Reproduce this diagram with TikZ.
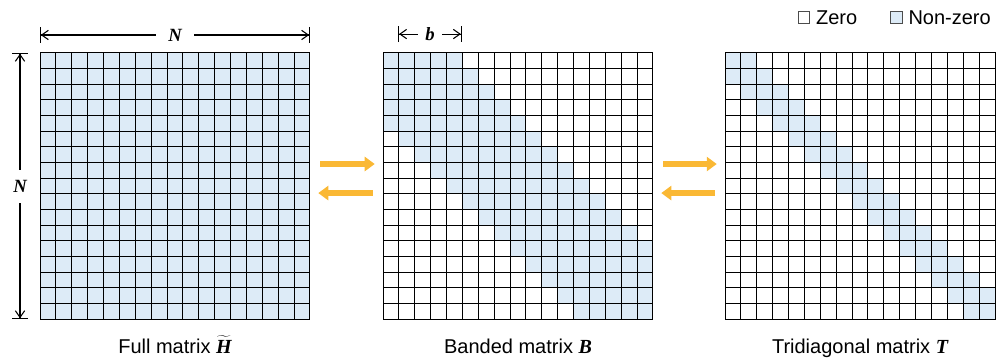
\documentclass[tikz,border=0pt]{standalone}
\usepackage{fontspec}
\setmainfont{Liberation Sans}
\newfontfamily\tms{Liberation Serif}
\usetikzlibrary{arrows.meta,positioning}

\definecolor{nzblue}{RGB}{221,235,247}
\definecolor{flowor}{RGB}{250,184,52}

\tikzset{
  cella/.style={line width=0.75pt, draw=black, line cap=rect},
  nonzero/.style={fill=nzblue},
  matbox/.style={inner sep=0pt, minimum width=202.5pt, minimum height=199.6pt},
  flow/.style={line width=4.5pt, draw=flowor, -{Triangle[length=7.5pt,width=10.5pt]}, shorten <=7.5pt, shorten >=6pt},
  dim/.style={line width=0.8pt, {Bar[width=12pt]Straight Barb[length=5pt,width=7pt]}-{Straight Barb[length=5pt,width=7pt]Bar[width=12pt]}},
  etich/.style={font=\fontsize{15}{18}\selectfont, anchor=base},
  legenda/.style={font=\fontsize{15}{18}\selectfont},
  misura/.style={font=\fontsize{14}{16}\selectfont\tms\bfseries\itshape, fill=white}
}

% #1 nome, #2 x sinistra, #3 semibanda
\newcommand{\matrice}[3]{%
  \begin{scope}[shift={(#2,2.492)}]
    \foreach \r in {0,...,16}{
      \pgfmathtruncatemacro\da{max(0,\r-#3)}
      \pgfmathtruncatemacro\ab{min(17,\r+#3+1)}
      \fill[nonzero] (\da,16-\r) rectangle (\ab,17-\r);
    }
    \foreach \k in {0,...,17}{
      \draw[cella] (\k,0) -- (\k,17);
      \draw[cella] (0,\k) -- (17,\k);
    }
    \node[matbox] (#1) at (8.5,8.5) {};
  \end{scope}
}

\begin{document}
\begin{tikzpicture}[x=11.91pt, y=11.74pt]
    \useasboundingbox (0,0) rectangle (62.78,22.875);

    %matrici
    \matrice{full}{2.519}{16}
    \matrice{band}{24.118}{4}
    \matrice{tri}{45.655}{1}

    %etichette
    \node[etich] (lfull) at (full.center |- 0,0.32) {Full matrix $\widetilde{\hbox{\tms\bfseries\itshape H}}$};
    \node[etich] (lband) at (band.center |- 0,0.32) {Banded matrix {\tms\bfseries\itshape B}};
    \node[etich] (ltri) at (tri.center |- 0,0.32) {Tridiagonal matrix {\tms\bfseries\itshape T}};

    %frecce
    \draw[flow] ([yshift=16.5pt]full.east) -- ([yshift=16.5pt]band.west);
    \draw[flow] ([yshift=-5.3pt]band.west) -- ([yshift=-5.3pt]full.east);
    \draw[flow] ([yshift=16.5pt]band.east) -- ([yshift=16.5pt]tri.west);
    \draw[flow] ([yshift=-5.3pt]tri.west) -- ([yshift=-5.3pt]band.east);

    %misure
    \coordinate (n1) at (full.north west |- 0,20.64);
    \coordinate (n2) at (full.north east |- 0,20.64);
    \draw[dim] (n1) -- (n2) node[misura, midway, inner xsep=9.5pt] (nh) {N};
    \coordinate (v1) at (1.26,0 |- full.north);
    \coordinate (v2) at (1.26,0 |- full.south);
    \draw[dim] (v1) -- (v2) node[misura, midway, inner ysep=7.8pt] (nv) {N};
    \coordinate (b1) at (25.06,20.70);
    \coordinate (b2) at (29.09,20.70);
    \draw[dim] (b1) -- (b2) node[misura, midway, inner xsep=5.5pt] (bb) {b};

    %legenda
    \node[draw=black!70, line width=0.5pt, minimum size=8.5pt, inner sep=0pt] (qz) at (50.63,21.76) {};
    \node[legenda, right=1pt of qz] (tz) {Zero};
    \node[draw=black!70, fill=nzblue, line width=0.5pt, minimum size=8.5pt, inner sep=0pt] (qn) at (56.45,21.76) {};
    \node[legenda, right=1pt of qn] (tn) {Non-zero};
\end{tikzpicture}
\end{document}
